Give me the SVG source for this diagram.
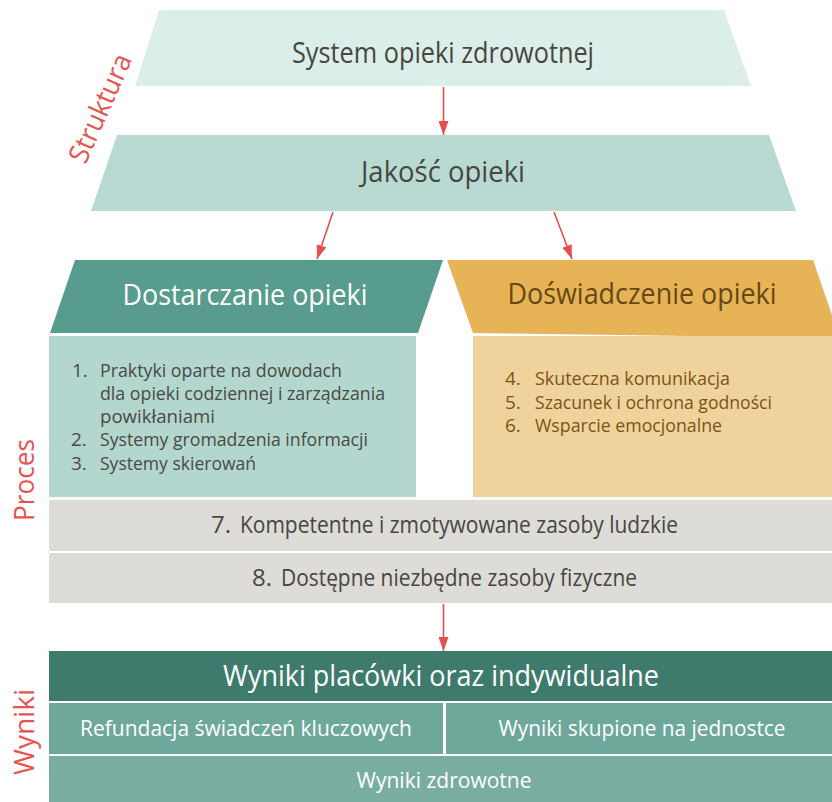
<svg xmlns="http://www.w3.org/2000/svg" width="832" height="802" viewBox="0 0 832 802">
<defs>
<style>
text{font-family:"Open Sans","Noto Sans","Liberation Sans",sans-serif;}
.t{font-size:29px;fill:#47463f;text-anchor:middle;}
.tw{font-size:29px;fill:#ffffff;text-anchor:middle;}
.tb{font-size:29px;fill:#684812;text-anchor:middle;}
.b{font-size:19px;fill:#4a4943;}
.bo{font-size:19px;fill:#7a5517;}
.g{font-size:24px;fill:#47463f;}
.w2{font-size:22px;fill:#ffffff;text-anchor:middle;}
.side{font-size:28px;fill:#e8534f;text-anchor:middle;}
.arr{stroke:#e8504e;stroke-width:1.6;fill:none;}
</style>
<marker id="ah" viewBox="0 0 14 10" refX="14" refY="5" markerWidth="14" markerHeight="10" markerUnits="userSpaceOnUse" orient="auto">
<path d="M0,0 L14,5 L0,10 z" fill="#e8504e"/>
</marker>
</defs>
<rect width="832" height="802" fill="#ffffff"/>

<g id="label-struktura">
<text class="side" transform="translate(109,112) rotate(-66)" textLength="116" lengthAdjust="spacingAndGlyphs">Struktura</text>
</g>
<g id="label-proces">
<text class="side" transform="translate(34,480) rotate(-90)" textLength="82" lengthAdjust="spacingAndGlyphs">Proces</text>
</g>
<g id="label-wyniki">
<text class="side" transform="translate(34,732) rotate(-90)" textLength="86" lengthAdjust="spacingAndGlyphs">Wyniki</text>
</g>

<g id="system">
<polygon points="159,10 724,10 751,86 135,86" fill="#dceeea"/>
<text class="t" x="443" y="63" textLength="302" lengthAdjust="spacingAndGlyphs">System opieki zdrowotnej</text>
</g>

<g id="jakosc">
<polygon points="117,135 769,135 796,211 91,211" fill="#b8dad3"/>
<text class="t" x="443" y="182" textLength="164" lengthAdjust="spacingAndGlyphs">Jakość opieki</text>
</g>

<g id="dostarczanie">
<polygon points="75,260 443,260 418,333 50,333" fill="#579c8c"/>
<text class="tw" x="245" y="305" textLength="245" lengthAdjust="spacingAndGlyphs">Dostarczanie opieki</text>
<rect x="49" y="336" width="367" height="161" fill="#b3d7cf"/>
<text class="b" x="72" y="377">1.</text>
<text class="b" x="100" y="377" textLength="242" lengthAdjust="spacingAndGlyphs">Praktyki oparte na dowodach</text>
<text class="b" x="100" y="400" textLength="285" lengthAdjust="spacingAndGlyphs">dla opieki codziennej i zarządzania</text>
<text class="b" x="100" y="423" textLength="115" lengthAdjust="spacingAndGlyphs">powikłaniami</text>
<text class="b" x="71" y="446">2.</text>
<text class="b" x="100" y="446" textLength="268" lengthAdjust="spacingAndGlyphs">Systemy gromadzenia informacji</text>
<text class="b" x="71" y="470">3.</text>
<text class="b" x="100" y="470" textLength="156" lengthAdjust="spacingAndGlyphs">Systemy skierowań</text>
</g>

<g id="doswiadczenie">
<polygon points="447,260 813,260 840,338 473,333" fill="#e6b357"/>
<text class="tb" x="642" y="304" textLength="269" lengthAdjust="spacingAndGlyphs">Doświadczenie opieki</text>
<rect x="473" y="336" width="359" height="161" fill="#f0d29c"/>
<text class="bo" x="505" y="385">4.</text>
<text class="bo" x="535" y="385" textLength="195" lengthAdjust="spacingAndGlyphs">Skuteczna komunikacja</text>
<text class="bo" x="505" y="409">5.</text>
<text class="bo" x="535" y="409" textLength="237" lengthAdjust="spacingAndGlyphs">Szacunek i ochrona godności</text>
<text class="bo" x="505" y="432">6.</text>
<text class="bo" x="535" y="432" textLength="187" lengthAdjust="spacingAndGlyphs">Wsparcie emocjonalne</text>
</g>

<g id="zasoby-ludzkie">
<rect x="49" y="500" width="783" height="51" fill="#dddcd8"/>
<text class="g" x="211" y="533">7.</text>
<text class="g" x="240" y="533" textLength="438" lengthAdjust="spacingAndGlyphs">Kompetentne i zmotywowane zasoby ludzkie</text>
</g>

<g id="zasoby-fizyczne">
<rect x="49" y="553" width="783" height="50" fill="#dddcd8"/>
<text class="g" x="252" y="586">8.</text>
<text class="g" x="281" y="586" textLength="356" lengthAdjust="spacingAndGlyphs">Dostępne niezbędne zasoby fizyczne</text>
</g>

<g id="wyniki-placowki">
<rect x="49" y="651" width="783" height="50" fill="#3e7b6d"/>
<text class="tw" x="441" y="686" textLength="436" lengthAdjust="spacingAndGlyphs">Wyniki placówki oraz indywidualne</text>
</g>

<g id="refundacja">
<rect x="49" y="703" width="394" height="51" fill="#6ea89b"/>
<text class="w2" x="246" y="736" textLength="332" lengthAdjust="spacingAndGlyphs">Refundacja świadczeń kluczowych</text>
</g>

<g id="wyniki-jednostka">
<rect x="446" y="703" width="386" height="51" fill="#6ea89b"/>
<text class="w2" x="642" y="736" textLength="287" lengthAdjust="spacingAndGlyphs">Wyniki skupione na jednostce</text>
</g>

<g id="wyniki-zdrowotne">
<rect x="49" y="756" width="783" height="46" fill="#79ada1"/>
<text class="w2" x="444" y="788" textLength="175" lengthAdjust="spacingAndGlyphs">Wyniki zdrowotne</text>
</g>

<g id="connectors">
<line class="arr" x1="443.5" y1="87" x2="443.5" y2="135" marker-end="url(#ah)"/>
<line class="arr" x1="333" y1="212" x2="317" y2="259" marker-end="url(#ah)"/>
<line class="arr" x1="554" y1="212" x2="572" y2="259" marker-end="url(#ah)"/>
<line class="arr" x1="443.5" y1="604" x2="443.5" y2="651" marker-end="url(#ah)"/>
</g>
</svg>
